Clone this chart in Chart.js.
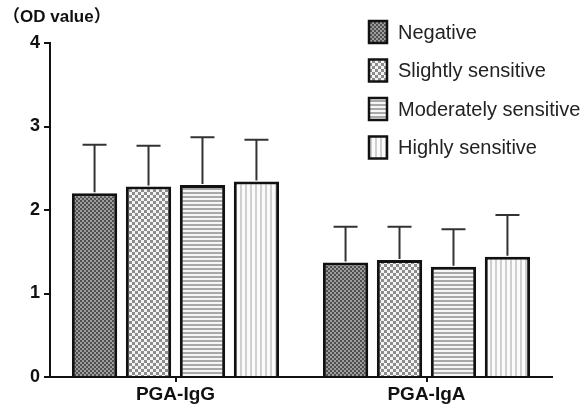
<!DOCTYPE html>
<html>
<head>
<meta charset="utf-8">
<script src="https://cdn.jsdelivr.net/npm/chart.js@4.4.1/dist/chart.umd.min.js"></script>
<style>
    html, body { margin: 0; padding: 0; background: #ffffff; }
    #wrap { position: relative; width: 585px; height: 407px; }
</style>
</head>
<body>
<div id="wrap"><canvas id="odChart" width="585" height="407"></canvas></div>
<script>
const categories = ["PGA-IgG", "PGA-IgA"];
const seriesNames = ["Negative", "Slightly sensitive", "Moderately sensitive", "Highly sensitive"];
const negativeMeans = [2.20, 1.37];
const slightMeans = [2.28, 1.40];
const moderateMeans = [2.30, 1.32];
const highMeans = [2.34, 1.44];
const negativeSD = [0.58, 0.43];
const slightSD = [0.49, 0.40];
const moderateSD = [0.57, 0.45];
const highSD = [0.50, 0.50];
const yTicks = [0, 1, 2, 3, 4];

const FONT = "'Liberation Sans', Arial, 'Noto Sans CJK SC', sans-serif";

function makePattern(w, h, paint) {
    const c = document.createElement("canvas");
    c.width = w;
    c.height = h;
    const g = c.getContext("2d");
    paint(g);
    return document.getElementById("odChart").getContext("2d").createPattern(c, "repeat");
}

// fine dark checker
const negativeFill = makePattern(4, 4, (g) => {
    g.fillStyle = "#9c9c9c"; g.fillRect(0, 0, 4, 4);
    g.fillStyle = "#505050"; g.fillRect(0, 0, 2, 2); g.fillRect(2, 2, 2, 2);
});
// coarser light checker
const slightFill = makePattern(6, 6, (g) => {
    g.fillStyle = "#f4f4f4"; g.fillRect(0, 0, 6, 6);
    g.fillStyle = "#8c8c8c"; g.fillRect(0, 0, 3, 3); g.fillRect(3, 3, 3, 3);
});
// horizontal lines
const moderateFill = makePattern(4, 4, (g) => {
    g.fillStyle = "#f6f6f6"; g.fillRect(0, 0, 4, 4);
    g.fillStyle = "#a8a8a8"; g.fillRect(0, 0, 4, 2);
});
// vertical lines
const highFill = makePattern(5, 5, (g) => {
    g.fillStyle = "#fbfbfb"; g.fillRect(0, 0, 5, 5);
    g.fillStyle = "#cfcfcf"; g.fillRect(0, 0, 2, 5);
});

const fills = [negativeFill, slightFill, moderateFill, highFill];
const meansList = [negativeMeans, slightMeans, moderateMeans, highMeans];
const sdList = [negativeSD, slightSD, moderateSD, highSD];

const errorBarPlugin = {
    id: "errorBars",
    afterDatasetsDraw(chart) {
        const ctx = chart.ctx;
        const yScale = chart.scales.y;
        ctx.save();
        ctx.strokeStyle = "#333333";
        ctx.lineWidth = 2;
        chart.data.datasets.forEach((ds, i) => {
            const meta = chart.getDatasetMeta(i);
            meta.data.forEach((bar, j) => {
                const top = yScale.getPixelForValue(ds.data[j] + sdList[i][j]);
                ctx.beginPath();
                ctx.moveTo(bar.x, bar.y - 1);
                ctx.lineTo(bar.x, top);
                ctx.moveTo(bar.x - 12, top);
                ctx.lineTo(bar.x + 12, top);
                ctx.stroke();
            });
        });
        ctx.restore();
    }
};

const legendPlugin = {
    id: "boxLegend",
    afterDraw(chart) {
        const ctx = chart.ctx;
        ctx.save();
        chart.data.datasets.forEach((ds, i) => {
            const cy = 32 + i * 38.5;
            ctx.fillStyle = ds.backgroundColor;
            ctx.fillRect(369, cy - 11, 18, 22);
            ctx.strokeStyle = "#111111";
            ctx.lineWidth = 2.5;
            ctx.strokeRect(369, cy - 11, 18, 22);
            ctx.fillStyle = "#222222";
            ctx.font = "20px " + FONT;
            ctx.textBaseline = "middle";
            ctx.textAlign = "left";
            ctx.fillText(ds.label, 398, cy + 1);
        });
        ctx.font = "bold 17px " + FONT;
        ctx.fillStyle = "#111111";
        ctx.textBaseline = "middle";
        ctx.fillText("（OD value）", 3, 17);
        ctx.restore();
    }
};

new Chart(document.getElementById("odChart"), {
    type: "bar",
    data: {
        labels: categories,
        datasets: seriesNames.map((name, i) => ({
            label: name,
            data: meansList[i],
            backgroundColor: fills[i],
            borderColor: "#111111",
            borderWidth: 3,
            borderSkipped: "start",
            categoryPercentage: 0.86,
            barPercentage: 0.84
        }))
    },
    options: {
        responsive: false,
        animation: false,
        layout: {
            padding: { top: 43, right: 33, left: 0, bottom: 0 }
        },
        plugins: {
            legend: { display: false },
            tooltip: { enabled: false }
        },
        scales: {
            x: {
                afterFit: (scale) => { scale.height = 30; },
                grid: {
                    offset: false,
                    drawOnChartArea: false,
                    tickLength: 5,
                    color: "#111111",
                    lineWidth: 2
                },
                border: { color: "#111111", width: 2 },
                ticks: {
                    color: "#111111",
                    padding: 1,
                    font: { family: FONT, size: 19, weight: "bold" }
                }
            },
            y: {
                min: 0,
                max: 4,
                afterFit: (scale) => { scale.width = 50; },
                afterBuildTicks: (scale) => {
                    scale.ticks = yTicks.map((v) => ({ value: v }));
                },
                grid: {
                    drawOnChartArea: false,
                    tickLength: 6,
                    color: "#111111",
                    lineWidth: 2
                },
                border: { color: "#111111", width: 2 },
                ticks: {
                    color: "#111111",
                    padding: 4,
                    font: { family: FONT, size: 18, weight: "bold" }
                }
            }
        }
    },
    plugins: [errorBarPlugin, legendPlugin]
});
</script>
</body>
</html>
